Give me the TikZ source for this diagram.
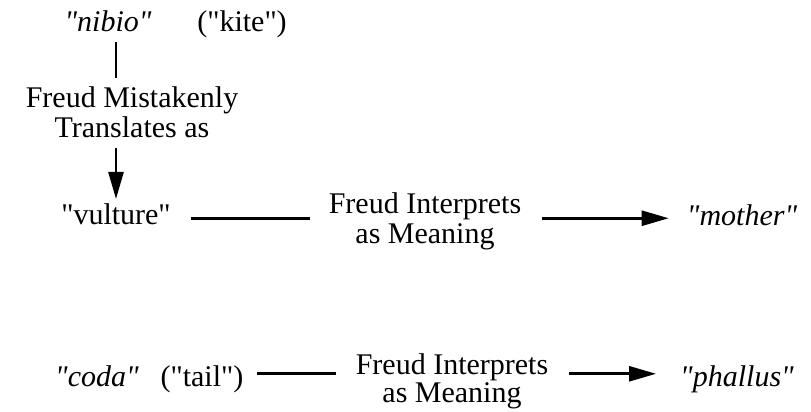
\documentclass[tikz,border=0pt]{standalone}
\usepackage{fontspec}
\setmainfont{Liberation Serif}
\usetikzlibrary{arrows.meta}
% straight double quote, as typed
\newcommand{\dq}{\textquotedbl}
\begin{document}
\begin{tikzpicture}[x=1pt,y=-1pt,
  lbl/.style={font=\fontsize{30}{30}\selectfont, inner sep=0pt, anchor=base},
  twoline/.style={font=\fontsize{30}{30}\selectfont, inner sep=0pt, align=center, anchor=north},
  link/.style={line width=2.6pt},
  flow/.style={line width=2.6pt, -{Triangle[length=27pt,width=15pt]}}]
  \useasboundingbox (0,0) rectangle (811,412);

  % top: the Italian word and its gloss
  \node[lbl] (nibio) at (108,32) {\itshape \dq nibio\dq};
  \node[lbl] (kite) at (242,32) {(\dq kite\dq)};

  % mistranslation step
  \node[twoline] (mistrans) at (132,86) {Freud Mistakenly\\Translates as};

  % first chain
  \node[lbl] (vulture) at (116,224) {\dq vulture\dq};
  \node[twoline] (interp1) at (425,192) {Freud Interprets\\as Meaning};
  \node[lbl] (mother) at (742,225) {\itshape \dq mother\dq};

  % second chain
  \node[lbl] (coda) at (97,386) {\itshape \dq coda\dq};
  \node[lbl] (tail) at (202,386) {(\dq tail\dq)};
  \node[twoline, font=\fontsize{30}{28.5}\selectfont] (interp2) at (452,353) {Freud Interprets\\as Meaning};
  \node[lbl] (phallus) at (737,386) {\itshape \dq phallus\dq};

  % vertical connectors
  \draw[link, shorten <=10pt, shorten >=8pt] (nibio.south -| vulture.north) -- (mistrans.north -| vulture.north);
  \draw[flow, shorten <=10pt, shorten >=4pt] (mistrans.south -| vulture.north) -- (vulture.north);

  % horizontal connectors, first chain
  \draw[link, shorten <=20pt, shorten >=19pt] ([yshift=-4.5pt]vulture.east) -- ([yshift=-4.5pt]vulture.east -| interp1.west);
  \draw[flow, shorten <=21pt, shorten >=18pt] ([yshift=-4.5pt]vulture.east -| interp1.east) -- ([yshift=-4.5pt]vulture.east -| mother.west);

  % horizontal connectors, second chain
  \draw[link, shorten <=13pt, shorten >=20pt] ([yshift=5pt]tail.east) -- ([yshift=5pt]tail.east -| interp2.west);
  \draw[flow, shorten <=21pt, shorten >=24pt] ([yshift=5pt]tail.east -| interp2.east) -- ([yshift=5pt]tail.east -| phallus.west);
\end{tikzpicture}
\end{document}
